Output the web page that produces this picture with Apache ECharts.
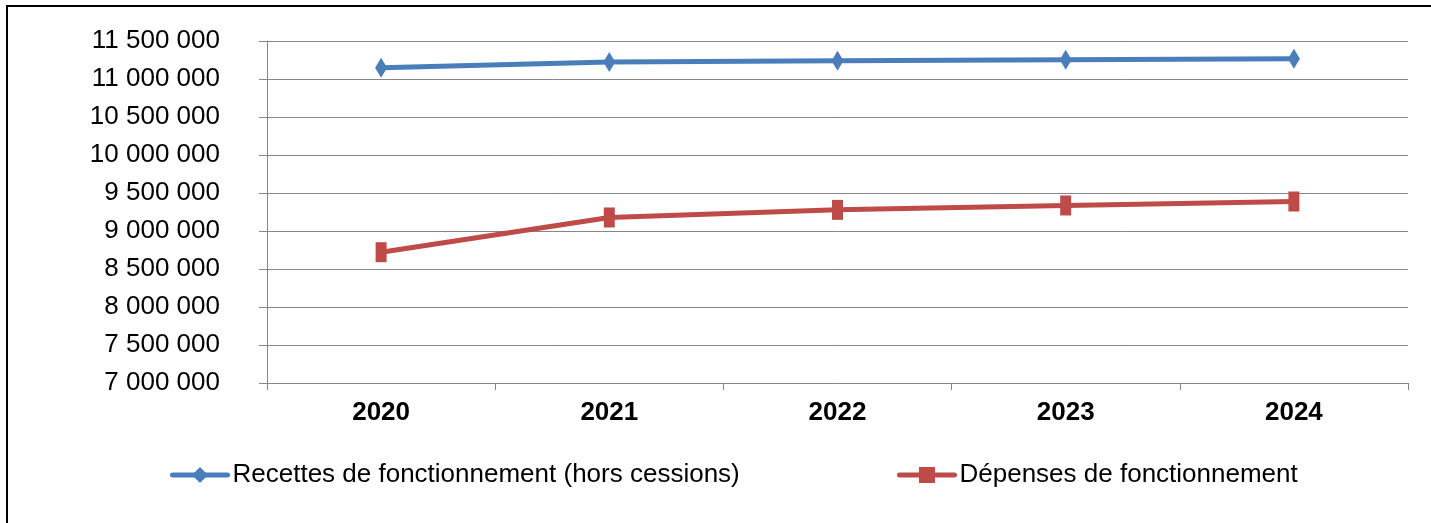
<!DOCTYPE html>
<html>
<head>
<meta charset="utf-8">
<script src="https://cdn.jsdelivr.net/npm/echarts@6/dist/echarts.min.js"></script>
<style>
html,body{margin:0;padding:0;background:#fff;}
#chart{width:1431px;height:523px;}
</style>
</head>
<body>
<div id="chart"></div>
<script>
const categories = ['2020', '2021', '2022', '2023', '2024'];
const recettes = [11148000, 11223000, 11241000, 11254000, 11267000];
const depenses = [8721000, 9178000, 9278000, 9336000, 9388000];
const seriesNames = ['Recettes de fonctionnement (hors cessions)', 'Dépenses de fonctionnement'];
const yMin = 7000000, yMax = 11500000, yStep = 500000;

function fmt(v) {
  return String(v).replace(/\B(?=(\d{3})+(?!\d))/g, ' ');
}

const chart = echarts.init(document.getElementById('chart'));
const font = '"Liberation Sans", Arial, sans-serif';
const legendCommon = {
  itemWidth: 55, itemHeight: 20, padding: 0,
  lineStyle: { width: 5, cap: 'round' },
  textStyle: { color: '#000', fontSize: 26, fontFamily: font }
};
chart.setOption({
  animation: false,
  textStyle: { fontFamily: font },
  graphic: [{
    type: 'rect',
    shape: { x: 7, y: 6, width: 1440, height: 540 },
    style: { fill: null, stroke: '#000', lineWidth: 2 },
    z: -10
  }],
  grid: { left: 267, right: 23, top: 41, bottom: 140 },
  xAxis: {
    type: 'category',
    data: categories,
    boundaryGap: true,
    axisLine: { lineStyle: { color: '#868686', width: 1 } },
    axisTick: { show: true, length: 7, lineStyle: { color: '#868686' } },
    axisLabel: { color: '#000', fontSize: 26, fontWeight: 'bold', fontFamily: font, margin: 17 },
    splitLine: { show: false }
  },
  yAxis: {
    type: 'value',
    min: yMin, max: yMax, interval: yStep,
    axisLine: { show: true, lineStyle: { color: '#868686', width: 1 } },
    axisTick: { show: true, length: 8, lineStyle: { color: '#868686' } },
    axisLabel: { color: '#000', fontSize: 26, fontFamily: font, margin: 47, formatter: fmt },
    splitLine: { show: true, lineStyle: { color: '#868686', width: 1 } }
  },
  legend: [
    Object.assign({ data: [seriesNames[0]], left: 170, top: 462 }, legendCommon),
    Object.assign({ data: [seriesNames[1]], left: 897, top: 462 }, legendCommon)
  ],
  series: [{
    name: seriesNames[0],
    type: 'line',
    data: recettes,
    symbol: 'diamond',
    symbolSize: [12, 20],
    lineStyle: { color: '#4A7EBB', width: 5 },
    itemStyle: { color: '#4A7EBB' }
  }, {
    name: seriesNames[1],
    type: 'line',
    data: depenses,
    symbol: 'rect',
    symbolSize: [11, 20],
    lineStyle: { color: '#BE4B48', width: 5 },
    itemStyle: { color: '#BE4B48' }
  }]
});
</script>
</body>
</html>
